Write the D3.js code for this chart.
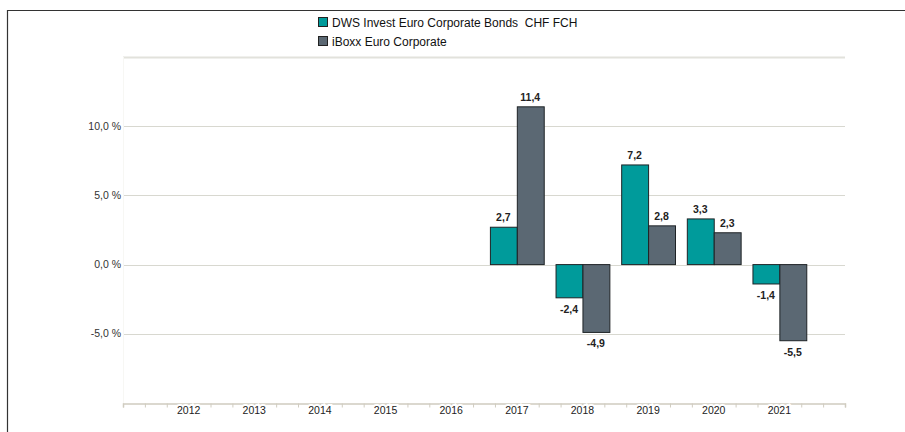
<!DOCTYPE html>
<html>
<head>
<meta charset="utf-8">
<script src="https://cdn.jsdelivr.net/npm/d3@7"></script>
<style>
  body { margin: 0; background: #fff; }
  svg { display: block; font-family: "Liberation Sans", Arial, sans-serif; }
</style>
</head>
<body>
<svg width="905" height="432"></svg>
<script>
const years = [2012, 2013, 2014, 2015, 2016, 2017, 2018, 2019, 2020, 2021];
const seriesNames = ['DWS Invest Euro Corporate Bonds  CHF FCH', 'iBoxx Euro Corporate'];
const fundValues = [null, null, null, null, null, 2.7, -2.4, 7.2, 3.3, -1.4];
const indexValues = [null, null, null, null, null, 11.4, -4.9, 2.8, 2.3, -5.5];
const yTicks = [-5, 0, 5, 10, 15];
const colors = ['#009b9b', '#5b6873'];

const svg = d3.select('svg');
const margin = { top: 57, left: 123, right: 60, bottom: 29 };
const width = +svg.attr('width');
const height = +svg.attr('height');

// frame
svg.append('path')
    .attr('d', 'M7.5,432V10.5H905')
    .attr('fill', 'none')
    .attr('stroke', '#333')
    .attr('stroke-width', 1.2);

const xScale = d3.scaleLinear()
    .domain([2011, 2022])
    .range([margin.left, width - margin.right]);

const yScale = d3.scaleLinear()
    .domain([-10, 15])
    .range([height - margin.bottom, margin.top]);

// grid
svg.append('g')
    .selectAll('line')
    .data(yTicks)
    .enter()
        .append('line')
        .attr('x1', xScale(2011))
        .attr('x2', xScale(2022))
        .attr('y1', d => Math.round(yScale(d)) + 0.5)
        .attr('y2', d => Math.round(yScale(d)) + 0.5)
        .attr('stroke', d => d === 15 ? '#e2e2dc' : '#d8d8d0')
        .attr('stroke-width', d => d === 15 ? 2 : 1);

svg.append('line')
    .attr('x1', xScale(2011) + 0.5).attr('x2', xScale(2011) + 0.5)
    .attr('y1', yScale(15)).attr('y2', yScale(-10))
    .attr('stroke', '#f7f7f4');

// y labels
const yFmt = d => d3.format('.1f')(d).replace('.', ',').replace('−', '-') + ' %';
svg.append('g')
    .selectAll('text')
    .data(yTicks.filter(d => d < 15))
    .enter()
        .append('text')
        .attr('x', margin.left - 2)
        .attr('y', d => yScale(d))
        .attr('dy', '0.35em')
        .attr('text-anchor', 'end')
        .attr('font-size', 10.5)
        .attr('fill', '#333')
        .text(yFmt);

// x axis
const minorTicks = d3.range(0, 34).map(i => 2011 + i / 3);
const xAxis = d3.axisBottom(xScale)
    .tickValues(minorTicks)
    .tickSize(4)
    .tickFormat('');
const xAxisG = svg.append('g')
    .attr('transform', `translate(0, ${Math.round(yScale(-10)) + 0.5})`)
    .call(xAxis);
xAxisG.select('.domain').attr('stroke', '#d0ccc0').attr('stroke-width', 1.5);
xAxisG.selectAll('.tick line').attr('stroke', '#d0ccc0');

svg.append('g')
    .selectAll('text')
    .data(years)
    .enter()
        .append('text')
        .attr('x', d => xScale(d))
        .attr('y', yScale(-10) + 11)
        .attr('text-anchor', 'middle')
        .attr('font-size', 10.5)
        .attr('fill', '#222')
        .attr('stroke', '#fff')
        .attr('stroke-width', 4)
        .attr('paint-order', 'stroke')
        .text(d => d);

// bars
const barW = xScale(2011.41) - xScale(2011);
const rows = [];
years.forEach((y, i) => {
    [fundValues[i], indexValues[i]].forEach((v, s) => {
        if (v !== null) rows.push({ year: y, value: v, s });
    });
});

const fmtVal = v => d3.format('.1f')(v).replace('.', ',').replace('−', '-');
const barX = d => xScale(d.year) + (d.s === 0 ? -barW : 0);

svg.append('g')
    .selectAll('rect')
    .data(rows)
    .enter()
        .append('rect')
        .attr('x', d => barX(d) + 0.5)
        .attr('y', d => yScale(Math.max(0, d.value)))
        .attr('width', barW)
        .attr('height', d => Math.abs(yScale(d.value) - yScale(0)))
        .attr('fill', d => colors[d.s])
        .attr('stroke', '#1e2326')
        .attr('stroke-width', 1);

svg.append('g')
    .selectAll('text')
    .data(rows)
    .enter()
        .append('text')
        .attr('x', d => barX(d) + barW / 2)
        .attr('y', d => d.value >= 0 ? yScale(d.value) - 6 : yScale(d.value) + 15)
        .attr('text-anchor', 'middle')
        .attr('font-size', 10.5)
        .attr('font-weight', 'bold')
        .attr('fill', '#222')
        .text(d => fmtVal(d.value));

// legend
const legend = svg.append('g')
    .selectAll('g')
    .data(seriesNames)
    .enter()
        .append('g')
        .attr('transform', (d, i) => `translate(318, ${17 + i * 19})`);
legend.append('rect')
    .attr('x', 0.5).attr('y', 0.5)
    .attr('width', 9).attr('height', 9)
    .attr('fill', (d, i) => colors[i])
    .attr('stroke', '#222');
legend.append('text')
    .attr('x', 14)
    .attr('y', 9.5)
    .attr('font-size', 12)
    .attr('fill', '#111')
    .attr('xml:space', 'preserve')
    .style('white-space', 'pre')
    .text(d => d);
</script>
</body>
</html>
